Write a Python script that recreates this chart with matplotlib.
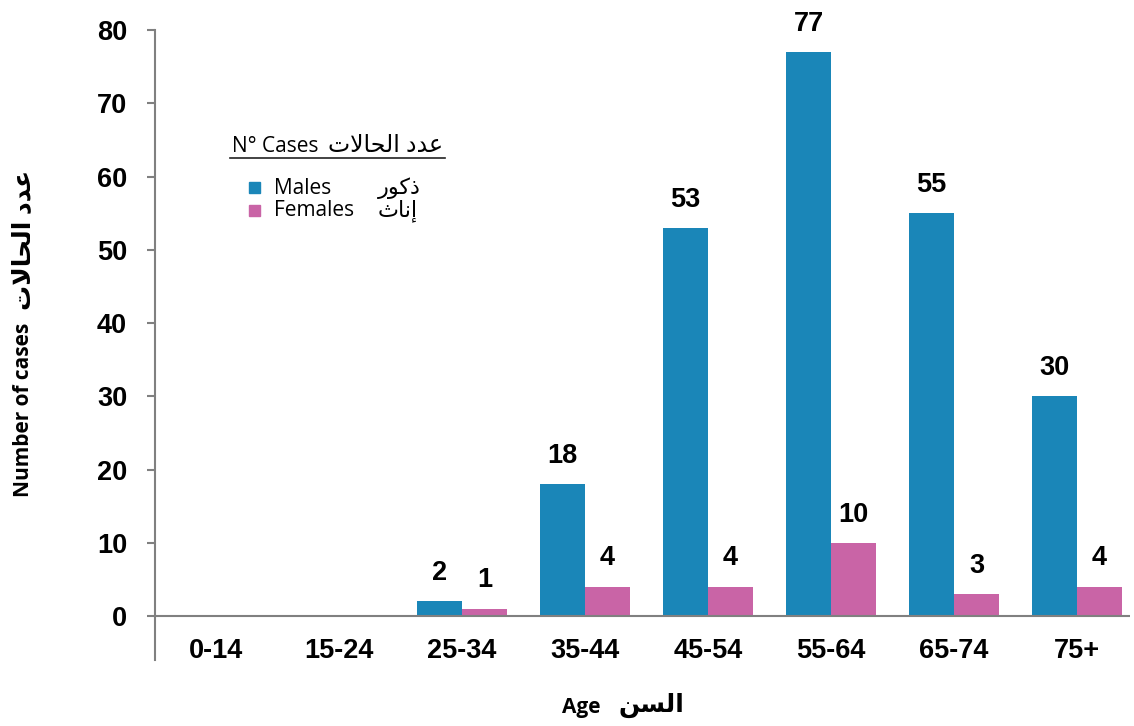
import numpy as np
import matplotlib.pyplot as plt
from matplotlib.patches import Rectangle
from matplotlib.lines import Line2D

# data
ages = ["0-14", "15-24", "25-34", "35-44", "45-54", "55-64", "65-74", "75+"]
males = [0, 0, 2, 18, 53, 77, 55, 30]
females = [0, 0, 1, 4, 4, 10, 3, 4]

# arabic text, pre-shaped (presentation forms, visual order)
ar_cases = "\ufe95\ufefb\ufe8e\ufea4\ufedf\ufe8d \ufea9\ufeaa\ufecb"   # عدد الحالات
ar_males = "\ufead\ufeee\ufedb\ufeab"                               # ذكور
ar_females = "\ufe99\ufe8e\ufee7\ufe87"                             # إناث
ar_age = "\ufee6\ufeb4\ufedf\ufe8d"                                 # السن

blue = "#1a86b8"
pink = "#c964a6"
gray = "#808080"
mixed = ["Open Sans", "DejaVu Sans"]

plt.rcParams['font.family'] = ["Liberation Sans", "DejaVu Sans"]

fig = plt.figure(figsize=(11.34, 7.26), dpi=100)
ax = fig.add_axes([155/1134, 1 - 660/726, (1130-155)/1134, (660-30)/726])

x = np.arange(len(ages))
w = 0.366
ax.bar(x - w/2, males, w, color=blue, zorder=2)
ax.bar(x + w/2, females, w, color=pink, zorder=2)

# value labels (skip empty groups)
for i in range(len(ages)):
    if males[i] == 0 and females[i] == 0:
        continue
    ax.annotate(str(males[i]), (x[i] - w/2, males[i]), xytext=(0, 11),
                textcoords="offset points", ha="center", va="bottom",
                fontsize=19.5, fontweight="bold")
    ax.annotate(str(females[i]), (x[i] + w/2, females[i]), xytext=(0, 11),
                textcoords="offset points", ha="center", va="bottom",
                fontsize=19.5, fontweight="bold")

ax.set_xlim(-0.496, 7.43)
ax.set_ylim(-6, 80)
ax.set_yticks(range(0, 81, 10))
ax.tick_params(axis="y", length=6, width=1.5, color=gray, labelsize=19.5, pad=14)
for lab in ax.get_yticklabels():
    lab.set_fontweight("bold")
ax.set_xticks([])
for i, a in enumerate(ages):
    ax.text(x[i], -4.8, a, ha="center", va="center", fontsize=19.5, fontweight="bold")

for s in ["top", "right", "bottom"]:
    ax.spines[s].set_visible(False)
ax.spines["left"].set_color(gray)
ax.spines["left"].set_linewidth(1.5)
ax.axhline(0, color=gray, lw=1.5, zorder=3)

# axis titles
fig.text(24/1134, 1 - 410/726, "Number of cases", rotation=90,
         ha="center", va="center", fontsize=15, fontweight="bold", family=mixed)
fig.text(24/1134, 1 - 240/726, ar_cases, rotation=90,
         ha="center", va="center", fontsize=18, fontweight="bold", family=mixed)
fig.text(600/1134, 1 - 707/726, "Age", ha="right", va="center",
         fontsize=15, fontweight="bold", family=mixed)
fig.text(618/1134, 1 - 705/726, ar_age, ha="left", va="center",
         fontsize=18, fontweight="bold", family=mixed)

# hand-made legend
fig.text(232/1134, 1 - 147/726, "N\u00b0 Cases", ha="left",
         va="center", fontsize=15, family=mixed)
fig.text(443/1134, 1 - 146/726, ar_cases, ha="right",
         va="center", fontsize=17, family=mixed)
fig.add_artist(Line2D([230/1134, 445/1134], [1 - 158/726, 1 - 158/726],
                      color="#222222", lw=1.2))
for yy, col, en, ar in [(188, blue, "Males", ar_males), (211, pink, "Females", ar_females)]:
    fig.add_artist(Rectangle((249/1134, 1 - (yy + 5)/726), 11/1134, 11/726,
                             color=col, transform=fig.transFigure))
    fig.text(274/1134, 1 - yy/726, en, ha="left", va="center", fontsize=15, family=mixed)
    fig.text(378/1134, 1 - yy/726, ar, ha="left", va="center", fontsize=16, family=mixed)

fig.savefig("out.png", dpi=100)
